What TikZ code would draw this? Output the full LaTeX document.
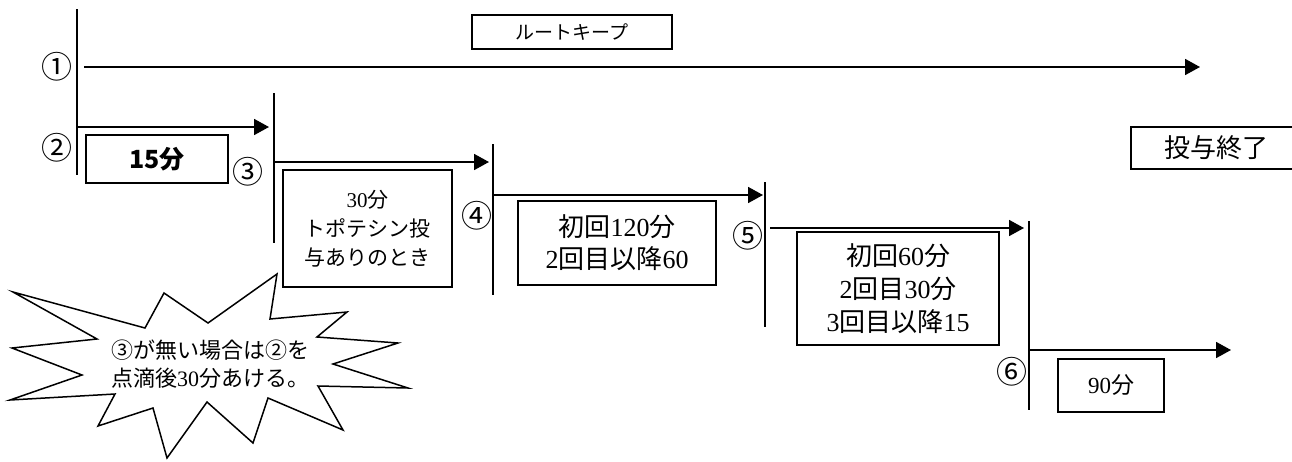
\documentclass[tikz,border=0pt]{standalone}
\usepackage{fontspec}
\setmainfont{Liberation Serif}
\newfontfamily\cjk{Noto Sans CJK JP}
\usetikzlibrary{arrows.meta}
\newcommand{\J}[1]{{\cjk #1}}
\newcommand{\fsz}[2]{\fontsize{#1}{#2}\selectfont}
\tikzset{
  box/.style={draw, line width=1.6pt, inner sep=0pt, align=center, fill=white},
  bar/.style={line width=1.8pt},
  flow/.style={line width=1.8pt, -{Triangle[length=15pt,width=16pt]}},
  num/.style={inner sep=0pt, font=\cjk\fsz{31}{31}},
}
\begin{document}
\begin{tikzpicture}[x=1pt,y=-1pt]
\clip (0,0) rectangle (1292,461);
\fill[white] (0,0) rectangle (1292,461);

% vertical bars
\coordinate (b1t) at (77,9);    \coordinate (b1b) at (77,175);
\coordinate (b2t) at (274,93);  \coordinate (b2b) at (274,243);
\coordinate (b3t) at (493,144); \coordinate (b3b) at (493,295);
\coordinate (b4t) at (765,182); \coordinate (b4b) at (765,327);
\coordinate (b5t) at (1029,221);\coordinate (b5b) at (1029,410);
\draw[bar] (b1t) -- (b1b);
\draw[bar] (b2t) -- (b2b);
\draw[bar] (b3t) -- (b3b);
\draw[bar] (b4t) -- (b4b);
\draw[bar] (b5t) -- (b5b);

% arrow end points
\coordinate (a1s) at (84,67);   \coordinate (a1e) at (1200,67);
\coordinate (a2s) at (77,127);  \coordinate (a2e) at (269,127);
\coordinate (a3s) at (274,162); \coordinate (a3e) at (489,162);
\coordinate (a4s) at (493,195); \coordinate (a4e) at (763,195);
\coordinate (a5s) at (770,228); \coordinate (a5e) at (1024,228);
\coordinate (a6s) at (1029,350);\coordinate (a6e) at (1231,350);
\draw[flow] (a1s) -- (a1e);
\draw[flow] (a2s) -- (a2e);
\draw[flow] (a3s) -- (a3e);
\draw[flow] (a4s) -- (a4e);
\draw[flow] (a5s) -- (a5e);
\draw[flow] (a6s) -- (a6e);

% step numbers
\node[num] (n1) at (57,67) {①};
\node[num] (n2) at (57,148) {②};
\node[num] (n3) at (248,172) {③};
\node[num] (n4) at (477,216) {④};
\node[num] (n5) at (748,236) {⑤};
\node[num] (n6) at (1012,372) {⑥};

% boxes
\node[box, minimum width=200pt, minimum height=34pt, font=\fsz{19}{22}] (keep) at (572,32) {\J{ルートキープ}};
\node[box, minimum width=142pt, minimum height=48pt, font=\cjk\bfseries\fsz{25}{30}] (t15) at (157,159) {15分};
\node[box, minimum width=169pt, minimum height=117pt, font=\fsz{21}{29}] (t30) at (367.5,228.5) {30\J{分}\\\J{トポテシン投}\\\J{与ありのとき}};
\node[box, minimum width=198pt, minimum height=84pt, font=\fsz{26}{32}] (t120) at (617,243) {\J{初回}120\J{分}\\2\J{回目以降}60};
\node[box, minimum width=202pt, minimum height=113pt, font=\fsz{26}{33}] (t60) at (898,288.5) {\J{初回}60\J{分}\\2\J{回目}30\J{分}\\3\J{回目以降}15};
\node[box, minimum width=106pt, minimum height=53pt, font=\fsz{23}{28}] (t90) at (1111,385.5) {90\J{分}};
\node[box, minimum width=170pt, minimum height=42pt, font=\fsz{26}{30}] (end) at (1216,148) {\J{投与終了}};

% explosion callout
\draw[line width=1.5pt, fill=white, line join=miter]
  (13,292) -- (145,328) -- (164,293) -- (208,323) -- (277,274) -- (270,319)
  -- (347,312) -- (317,337) -- (398,343) -- (333,364) -- (408,388) -- (318,386)
  -- (343,430) -- (268,398) -- (253,443) -- (207,402) -- (167,458) -- (153,408)
  -- (98,426) -- (115,394) -- (10,400) -- (82,375) -- (12,348) -- (97,339) -- cycle;
\node[inner sep=0pt, align=center, font=\fsz{22}{28}] (note) at (210,364) {\J{③が無い場合は②を}\\\J{点滴後}30\J{分あける。}};
\end{tikzpicture}
\end{document}
